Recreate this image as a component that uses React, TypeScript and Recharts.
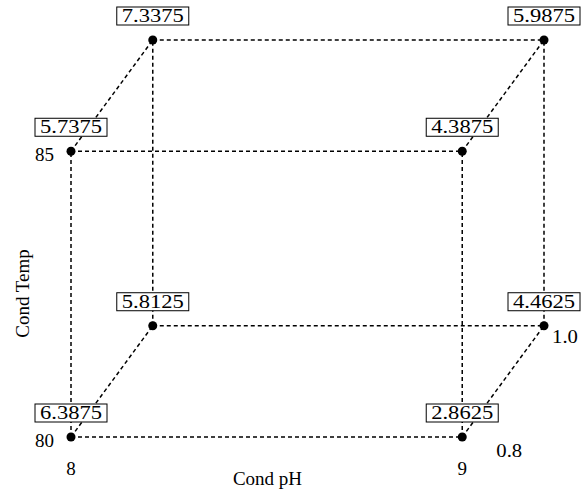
import { ScatterChart, Scatter, XAxis, YAxis, ReferenceLine, LabelList } from "recharts";

// factor levels
const phLevels = [8, 9];
const tempLevels = [80, 85];
const depthLevels = [0.8, 1.0];
const depthTicks = ["0.8", "1.0"];

// responses at each corner
const cornerPh = [8, 9, 8, 9, 8, 9, 8, 9];
const cornerTemp = [80, 80, 85, 85, 80, 80, 85, 85];
const cornerDepth = [0.8, 0.8, 0.8, 0.8, 1.0, 1.0, 1.0, 1.0];
const cornerValues = ["6.3875", "2.8625", "5.7375", "4.3875", "5.8125", "4.4625", "7.3375", "5.9875"];

// oblique projection of the third factor
const DX = 0.209;
const DY = 1.947;
const proj = (ph: number, temp: number, d: number) => {
  const t = (d - depthLevels[0]) / (depthLevels[1] - depthLevels[0]);
  return { x: ph + t * DX, y: temp + t * DY };
};

const points = cornerValues.map((v, i) => ({
  ...proj(cornerPh[i], cornerTemp[i], cornerDepth[i]),
  value: v,
}));

const depthPoints = depthLevels.map((d, i) => ({
  ...proj(phLevels[1], tempLevels[0], d),
  label: depthTicks[i],
}));

// cube edges: corners that differ by a single factor
const edges: [number, number][] = [];
for (let i = 0; i < 8; i++) {
  for (let j = i + 1; j < 8; j++) {
    const diff =
      (cornerPh[i] !== cornerPh[j] ? 1 : 0) +
      (cornerTemp[i] !== cornerTemp[j] ? 1 : 0) +
      (cornerDepth[i] !== cornerDepth[j] ? 1 : 0);
    if (diff === 1) edges.push([i, j]);
  }
}

const FONT = "Liberation Serif";
const FS = 18;

const ValueBox = (props: any) => {
  const { x, y, width, value } = props;
  const cx = x + (width || 0) / 2;
  const cy = y + (width || 0) / 2;
  const w = 72;
  const h = 18;
  return (
    <g>
      <rect x={cx - w / 2} y={cy - 15 - h} width={w} height={h} fill="#fff" stroke="#000" strokeWidth={1} />
      <text
        x={cx - 31}
        y={cy - 18}
        textLength={62}
        lengthAdjust="spacingAndGlyphs"
        fontFamily={FONT}
        fontSize={FS}
        fill="#000"
      >
        {value}
      </text>
    </g>
  );
};

const depthOffsets = [
  { dx: 47, dy: 20 },
  { dx: 21, dy: 17 },
];

const DepthLabel = (p: any) => {
  const o = depthOffsets[p.index] || { dx: 0, dy: 0 };
  return (
    <text
      x={p.cx + o.dx}
      y={p.cy + o.dy}
      textAnchor="middle"
      fontFamily={FONT}
      fontSize={FS}
      fill="#000"
      transform={`translate(${p.cx + o.dx} 0) scale(1.15 1) translate(${-(p.cx + o.dx)} 0)`}
    >
      {p.payload.label}
    </text>
  );
};

export default function App() {
  return (
    <div style={{ position: "absolute", left: 0, top: 0, background: "#fff", fontFamily: FONT }}>
      <ScatterChart width={588} height={497} margin={{ top: 40, right: 44, bottom: 0, left: 0 }}>
        <XAxis
          type="number"
          dataKey="x"
          domain={[phLevels[0], phLevels[1] + DX]}
          ticks={phLevels}
          axisLine={false}
          tickLine={false}
          tickMargin={19}
          tick={{ fill: "#000", fontSize: FS + 1, fontFamily: FONT }}
          height={60}
          label={{ value: "Cond pH", position: "insideBottom", dx: -40, offset: 12, style: { fill: "#000", fontSize: FS + 1, fontFamily: FONT } }}
        />
        <YAxis
          type="number"
          dataKey="y"
          domain={[tempLevels[0], tempLevels[1] + DY]}
          ticks={tempLevels}
          axisLine={false}
          tickLine={false}
          tickMargin={11}
          tick={{ fill: "#000", fontSize: FS + 1, fontFamily: FONT, dy: 3 }}
          width={71}
          label={{ value: "Cond Temp", angle: -90, position: "insideLeft", dy: 55, offset: 22, style: { fill: "#000", fontSize: FS + 1, fontFamily: FONT, textAnchor: "middle" } }}
        />
        {edges.map(([a, b], k) => (
          <ReferenceLine
            key={k}
            segment={[
              { x: points[a].x, y: points[a].y },
              { x: points[b].x, y: points[b].y },
            ]}
            stroke="#000"
            strokeWidth={1.5}
            strokeDasharray="4 3"
            ifOverflow="visible"
          />
        ))}
        <Scatter data={points} fill="#000" shape={(p: any) => <circle cx={p.cx} cy={p.cy} r={4.5} fill="#000" />} isAnimationActive={false}>
          <LabelList dataKey="value" content={ValueBox} />
        </Scatter>
        <Scatter data={depthPoints} shape={DepthLabel} isAnimationActive={false} />
      </ScatterChart>
    </div>
  );
}
